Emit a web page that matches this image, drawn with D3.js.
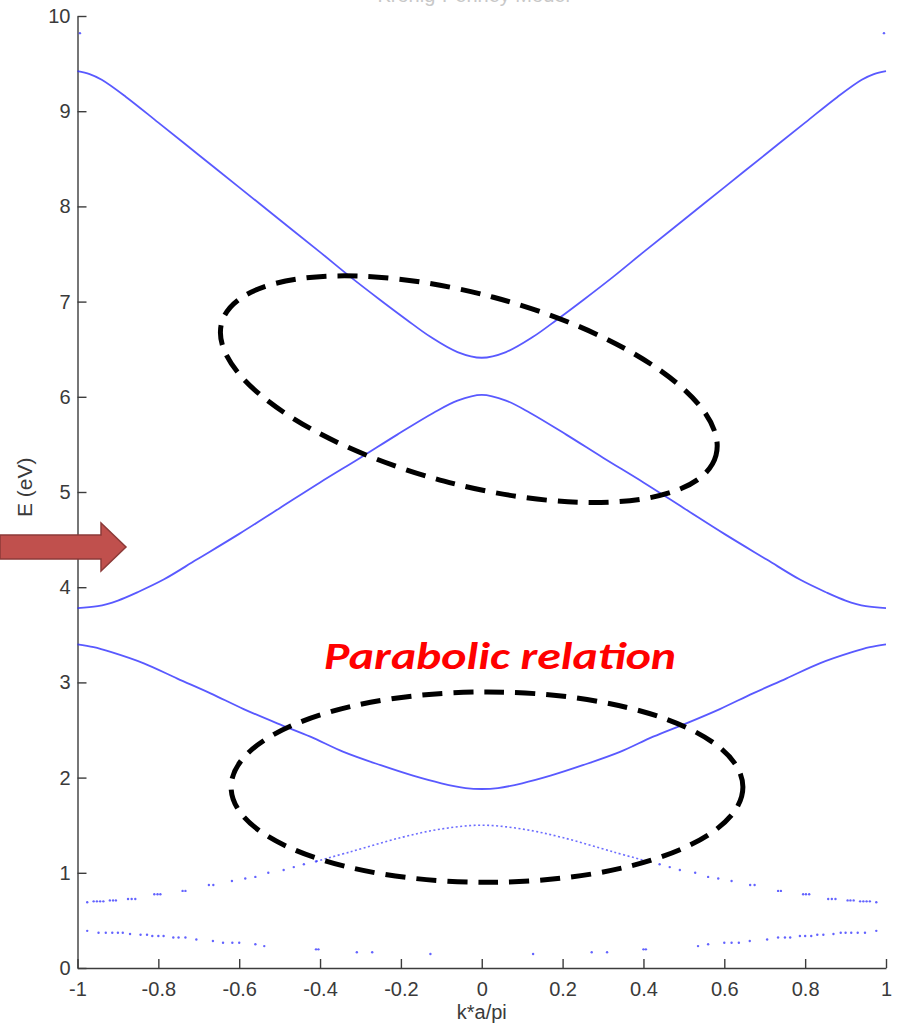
<!DOCTYPE html>
<html>
<head>
<meta charset="utf-8">
<script src="https://cdn.jsdelivr.net/npm/d3@7/dist/d3.min.js"></script>
<style>
  html, body { margin: 0; padding: 0; background: #fff; }
  svg { display: block; }
</style>
</head>
<body>
<svg id="chart" width="903" height="1029"></svg>
<script>
// Kronig-Penney band structure, reduced zone E(k)

const kTicks = [-1, -0.8, -0.6, -0.4, -0.2, 0, 0.2, 0.4, 0.6, 0.8, 1];
const kTickLabels = ["-1", "-0.8", "-0.6", "-0.4", "-0.2", "0", "0.2", "0.4", "0.6", "0.8", "1"];
const eTicks = [0, 1, 2, 3, 4, 5, 6, 7, 8, 9, 10];

// lowest band: sparse samples [k, E]
const band1 = [
  [-0.976, 0.39], [-0.948, 0.37], [-0.93, 0.37], [-0.914, 0.37], [-0.90, 0.37], [-0.888, 0.37],
  [-0.87, 0.357], [-0.844, 0.35], [-0.828, 0.35], [-0.815, 0.336], [-0.80, 0.336], [-0.787, 0.336],
  [-0.763, 0.32], [-0.75, 0.32], [-0.733, 0.32], [-0.706, 0.30], [-0.665, 0.283],
  [-0.64, 0.266], [-0.617, 0.266], [-0.60, 0.266], [-0.56, 0.25], [-0.538, 0.23],
  [-0.41, 0.196], [-0.404, 0.196], [-0.309, 0.165], [-0.271, 0.165], [-0.127, 0.147],
  [0.127, 0.147], [0.272, 0.165], [0.31, 0.165], [0.40, 0.196], [0.406, 0.196],
  [0.535, 0.23], [0.56, 0.25], [0.60, 0.266], [0.618, 0.266], [0.636, 0.266], [0.663, 0.283],
  [0.706, 0.30], [0.733, 0.32], [0.75, 0.32], [0.763, 0.32], [0.787, 0.336], [0.80, 0.336],
  [0.815, 0.336], [0.83, 0.35], [0.845, 0.35], [0.87, 0.357], [0.888, 0.37], [0.90, 0.37],
  [0.914, 0.37], [0.93, 0.37], [0.948, 0.37], [0.976, 0.39]
];

// second band: sparse toward the zone edge
const band2 = [
  [-0.976, 0.69], [-0.96, 0.70], [-0.952, 0.70], [-0.944, 0.70], [-0.936, 0.70],
  [-0.92, 0.71], [-0.912, 0.71], [-0.905, 0.71], [-0.875, 0.725], [-0.866, 0.725], [-0.857, 0.725],
  [-0.81, 0.774], [-0.802, 0.774], [-0.795, 0.774], [-0.74, 0.81], [-0.733, 0.81],
  [-0.675, 0.872], [-0.664, 0.872], [-0.618, 0.914], [-0.585, 0.94], [-0.56, 0.957],
  [-0.528, 1.0], [-0.49, 1.03], [-0.465, 1.06], [-0.44, 1.09], [-0.41, 1.12]
];
const band2Center = [
  [-0.41, 1.12], [-0.325, 1.22], [-0.2, 1.37], [-0.1, 1.46], [0, 1.50],
  [0.1, 1.46], [0.2, 1.37], [0.325, 1.22], [0.41, 1.12]
];
const band2Right = [
  [0.41, 1.12], [0.44, 1.09], [0.465, 1.06], [0.49, 1.03], [0.528, 1.0], [0.56, 0.957],
  [0.585, 0.94], [0.618, 0.914], [0.664, 0.872], [0.675, 0.872], [0.733, 0.81], [0.74, 0.81],
  [0.795, 0.774], [0.802, 0.774], [0.81, 0.774], [0.857, 0.725], [0.866, 0.725], [0.875, 0.725],
  [0.905, 0.71], [0.912, 0.71], [0.92, 0.71], [0.936, 0.70], [0.944, 0.70], [0.952, 0.70],
  [0.96, 0.70], [0.976, 0.69]
];

const band3 = [
  [-1, 3.40], [-0.96, 3.37], [-0.918, 3.32], [-0.836, 3.20], [-0.753, 3.04], [-0.671, 2.885],
  [-0.589, 2.72], [-0.506, 2.57], [-0.424, 2.43], [-0.342, 2.27], [-0.25, 2.13], [-0.17, 2.02],
  [-0.1, 1.94], [-0.04, 1.89], [0, 1.88], [0.04, 1.89], [0.1, 1.94], [0.17, 2.02], [0.25, 2.13],
  [0.342, 2.27], [0.424, 2.43], [0.506, 2.57], [0.589, 2.72], [0.671, 2.885], [0.753, 3.04],
  [0.836, 3.20], [0.918, 3.32], [0.96, 3.37], [1, 3.40]
];

const band4 = [
  [-1, 3.78], [-0.95, 3.80], [-0.9, 3.86], [-0.85, 3.95], [-0.787, 4.08], [-0.705, 4.29],
  [-0.6, 4.56], [-0.5, 4.83], [-0.4, 5.10], [-0.3, 5.36], [-0.21, 5.60], [-0.12, 5.83],
  [-0.06, 5.96], [0, 6.02], [0.06, 5.96], [0.12, 5.83], [0.21, 5.60], [0.3, 5.36], [0.4, 5.10],
  [0.5, 4.83], [0.6, 4.56], [0.705, 4.29], [0.787, 4.08], [0.85, 3.95], [0.9, 3.86],
  [0.95, 3.80], [1, 3.78]
];

const band5 = [
  [-1, 9.42], [-0.97, 9.39], [-0.94, 9.33], [-0.88, 9.15], [-0.8, 8.88], [-0.7, 8.54],
  [-0.6, 8.20], [-0.5, 7.86], [-0.4, 7.52], [-0.325, 7.26], [-0.252, 7.02], [-0.186, 6.81],
  [-0.127, 6.63], [-0.06, 6.47], [0, 6.41], [0.06, 6.47], [0.127, 6.63], [0.186, 6.81],
  [0.252, 7.02], [0.325, 7.26], [0.4, 7.52], [0.5, 7.86], [0.6, 8.20], [0.7, 8.54],
  [0.8, 8.88], [0.88, 9.15], [0.94, 9.33], [0.97, 9.39], [1, 9.42]
];

// start of the sixth band at the zone edges
const band6 = [[-0.994, 9.82], [0.995, 9.82]];

const svg = d3.select("#chart");
const x = d3.scaleLinear().domain([-1, 1]).range([77.5, 886]);
const y = d3.scaleLinear().domain([0, 10]).range([968, 16]);

const axisColor = "#3c3c3c";
const fontFam = "'Liberation Sans', Arial, sans-serif";

// title sits at the very top edge
svg.append("text")
  .attr("x", x(-0.02)).attr("y", 2)
  .attr("text-anchor", "middle")
  .attr("font-family", fontFam).attr("font-size", 20)
  .attr("fill", "#c8c8c8")
  .text("Kronig-Penney Model");

// axes (left and bottom only, ticks pointing inward)
const xAxis = d3.axisBottom(x).tickValues(kTicks)
  .tickFormat((d, i) => kTickLabels[i]).tickSizeInner(-9).tickSizeOuter(0).tickPadding(14);
const yAxis = d3.axisLeft(y).tickValues(eTicks)
  .tickFormat(d3.format("d")).tickSizeInner(-9).tickSizeOuter(0).tickPadding(7);

const gx = svg.append("g").attr("transform", `translate(0,${y(0)})`).call(xAxis);
const gy = svg.append("g").attr("transform", `translate(${x(-1)},0)`).call(yAxis);
[gx, gy].forEach(g => {
  g.select(".domain").attr("stroke", axisColor).attr("stroke-width", 1.4);
  g.selectAll(".tick line").attr("stroke", axisColor).attr("stroke-width", 1.4);
  g.selectAll(".tick text").attr("fill", "#3a3a3a")
    .attr("font-family", fontFam).attr("font-size", 20);
});
gx.selectAll(".tick text").attr("dy", "0.71em");

svg.append("text")
  .attr("x", x(0)).attr("y", 1019)
  .attr("text-anchor", "middle")
  .attr("font-family", fontFam).attr("font-size", 20).attr("fill", "#3a3a3a")
  .text("k*a/pi");

svg.append("text")
  .attr("transform", `translate(32,${y(5.05)}) rotate(-90)`)
  .attr("text-anchor", "middle")
  .attr("font-family", fontFam).attr("font-size", 21).attr("fill", "#3a3a3a")
  .text("E (eV)");

// bands
const bandColor = "#2f2fff";
const line = d3.line().x(d => x(d[0])).y(d => y(d[1])).curve(d3.curveCatmullRom.alpha(0.5));

const plot = svg.append("g");
[band3, band4, band5].forEach(b => {
  plot.append("path").datum(b)
    .attr("d", line)
    .attr("fill", "none")
    .attr("stroke", bandColor)
    .attr("stroke-width", 1.8)
    .attr("stroke-opacity", 0.8);
});

plot.append("path").datum(band2Center)
  .attr("d", line)
  .attr("fill", "none")
  .attr("stroke", bandColor)
  .attr("stroke-width", 1.6)
  .attr("stroke-opacity", 0.7)
  .attr("stroke-dasharray", "2 2.5");

plot.selectAll("circle.dot")
  .data(band1.concat(band2, band2Right, band6))
  .join("circle")
  .attr("class", "dot")
  .attr("cx", d => x(d[0]))
  .attr("cy", d => y(d[1]))
  .attr("r", 1.2)
  .attr("fill", bandColor)
  .attr("fill-opacity", 0.75);

// annotations
const upperEllipse = { k: -0.032, e: 6.08, rk: 0.633, re: 1.0, angle: 15 };
const lowerEllipse = { k: 0.013, e: 1.90, rk: 0.633, re: 1.0, angle: 0 };
[upperEllipse, lowerEllipse].forEach(el => {
  const cx = x(el.k), cy = y(el.e);
  svg.append("ellipse")
    .attr("cx", cx).attr("cy", cy)
    .attr("rx", x(el.rk) - x(0))
    .attr("ry", y(0) - y(el.re))
    .attr("transform", `rotate(${el.angle},${cx},${cy})`)
    .attr("fill", "none")
    .attr("stroke", "#000")
    .attr("stroke-width", 5)
    .attr("stroke-dasharray", "20 11");
});

svg.append("text")
  .attr("x", x(-0.39)).attr("y", 669)
  .attr("font-family", "Carlito, 'Open Sans', 'Noto Sans', sans-serif")
  .attr("font-size", 38)
  .attr("font-weight", "bold")
  .attr("font-style", "italic")
  .attr("fill", "#ff0000")
  .attr("textLength", 352)
  .attr("lengthAdjust", "spacingAndGlyphs")
  .text("Parabolic relation");

// arrow pointing at the gap
svg.append("path")
  .attr("d", d3.line()([[0, 535], [101, 535], [101, 523], [126, 547], [101, 571], [101, 559], [0, 559]]) + "Z")
  .attr("fill", "#c0504d")
  .attr("stroke", "#8c3a38")
  .attr("stroke-width", 1.5);
</script>
</body>
</html>
